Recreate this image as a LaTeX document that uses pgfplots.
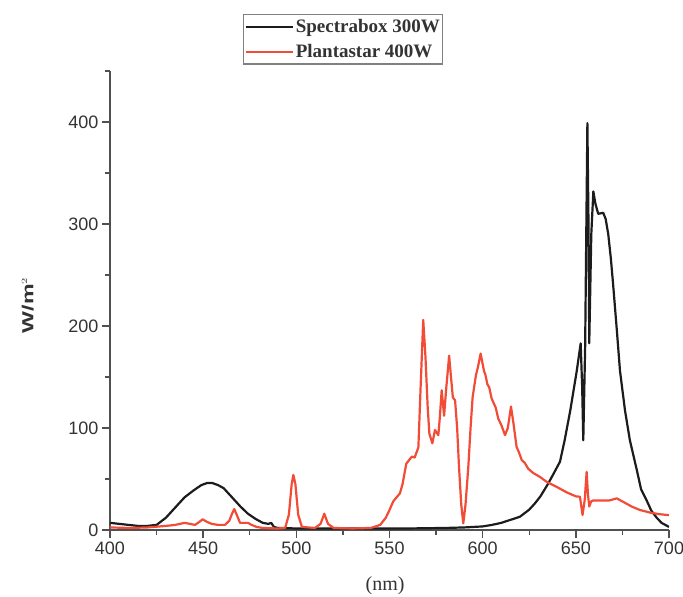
\documentclass[border=0pt]{standalone}
\usepackage{pgfplots}
\pgfplotsset{compat=1.18}
\usepackage{fontspec}
\usepackage{graphicx}
\setmainfont{Liberation Sans}
\newfontfamily\seriffont{Liberation Serif}
\definecolor{axgray}{HTML}{505050}
\definecolor{txtgray}{HTML}{333333}
\definecolor{specblack}{HTML}{1C1C1C}
\definecolor{plantred}{HTML}{F24B36}
\begin{document}
\begin{tikzpicture}
\path[use as bounding box] (-110pt,-67pt) rectangle (573pt,530pt);
\begin{axis}[
  at={(0pt,0pt)}, anchor=south west,
  scale only axis, width=559pt, height=459pt,
  xmin=400, xmax=700, ymin=0, ymax=450,
  axis lines=left,
  axis line style={-, draw=axgray, line width=1.8pt},
  every tick/.style={draw=axgray, line width=1.4pt},
  tick align=outside,
  major tick length=8pt, minor tick length=5pt,
  xtick={400,450,...,700}, minor xtick={425,475,...,675},
  ytick={0,100,...,400}, minor ytick={50,150,...,450},
  tick label style={font=\fontsize{18}{18}\selectfont, text=txtgray},
  /pgf/number format/assume math mode=true,
  xlabel={\seriffont\fontsize{20}{20}\selectfont (nm)},
  xlabel style={at={(axis description cs:0.492,-0.122)}, anchor=center, text=txtgray},
  ylabel={\bfseries\fontsize{16}{16}\selectfont\scalebox{1.45}[1]{W/m$^{\scriptscriptstyle 2}$}},
  ylabel style={at={(axis description cs:-0.147,0.49)}, anchor=center, text=txtgray},
  legend style={at={(rel axis cs:0.238,1.124)}, anchor=north west,
    draw=gray, line width=1.1pt, font=\seriffont\bfseries\fontsize{19}{21}\selectfont,
    text=txtgray, inner xsep=1pt, inner ysep=3pt, row sep=6pt, cells={anchor=west}},
  legend image code/.code={\draw[#1] (0pt,0pt) -- (47pt,0pt);},
  legend cell align=left,
]
\addplot[specblack, line width=2.2pt, line join=round] coordinates {
(400,7) (405,6) (410,5) (415,4) (420,4) (425,5) (430,12) (435,22) (440,32) (445,39)
(449,44) (452,46) (455,46) (458,44) (461,41) (464,35) (467,29) (470,23) (474,16)
(478,11) (482,7) (485,6) (486.5,7) (488,3) (490,2) (500,1.5) (520,1.5) (540,1.5)
(560,1.5) (580,2) (590,2.5) (600,3.5) (605,5) (610,7) (615,10) (620,13) (625,20)
(628,26) (631,33) (635,45) (638,55) (641.5,67) (644,88) (647,117) (650.5,156)
(652.6,183) (653.4,140) (654,88) (655,180) (656.2,399) (656.8,300) (657.2,183)
(658.3,290) (659.4,332) (660.5,320) (662,310) (664.7,311) (666,305) (667.4,290)
(668.8,266) (670,241) (672,196) (673.7,156) (676.4,117) (679,88) (682.7,59)
(685,40) (688,29) (690.5,19) (693.4,12) (696,7) (700,3)
};
\addlegendentry{Spectrabox 300W}
\addplot[plantred, line width=2.2pt, line join=round] coordinates {
(400,2.5) (410,2) (420,2.5) (430,4) (435,5) (440,7) (443,6) (445.6,5) (448,8)
(449.7,10.5) (452,8) (454.6,6) (458,5) (461.7,5) (464,9) (465.5,16) (466.7,20.5)
(468,15) (469.8,7) (472,7) (474,7) (476,5) (478.7,3) (482,2) (490,1.5) (494,2)
(496,15) (497.5,45) (498.4,54) (499.5,45) (501,15) (503,3) (510,2) (513,6)
(515,16) (517,6) (520,2) (530,1.5) (540,2) (545,5) (548,12) (550,19.6) (552,28)
(555.6,36) (557,45) (559,65) (562,72) (563.5,71) (565.5,81) (566.7,140)
(568.1,206) (569.3,170) (570.5,120) (571.4,94.5) (573,85) (574.4,98) (576.2,93)
(577,110) (578,137) (579.3,112) (580.5,140) (582,171) (583,150) (584,130)
(585.2,127) (586.3,100) (587.3,62) (588.5,25) (589.6,6.5) (590.8,25) (592.3,62)
(593.5,100) (594.6,130) (596.4,152) (597.5,160) (598.9,173) (600.7,156)
(601.5,152) (602.5,143) (603.5,140) (604.8,129) (606,124) (607,120) (608.4,109)
(610,103) (612,93) (613.5,100) (615.2,121) (616.5,105) (618.2,81.5) (619.5,76)
(621,68.5) (622.5,66) (624.5,60) (627,56) (630.8,52) (634.5,47) (640,42)
(645,37) (650,33) (652.2,32.6) (653.6,14.7) (654.8,30) (655.8,57) (656.5,35)
(657.2,23) (658.2,28) (659.4,29) (663,29) (668,29) (672,31) (676,27) (680,23)
(684.4,19.6) (690,17) (695,15.5) (700,14.5)
};
\addlegendentry{Plantastar 400W}
\end{axis}
\end{tikzpicture}
\end{document}
